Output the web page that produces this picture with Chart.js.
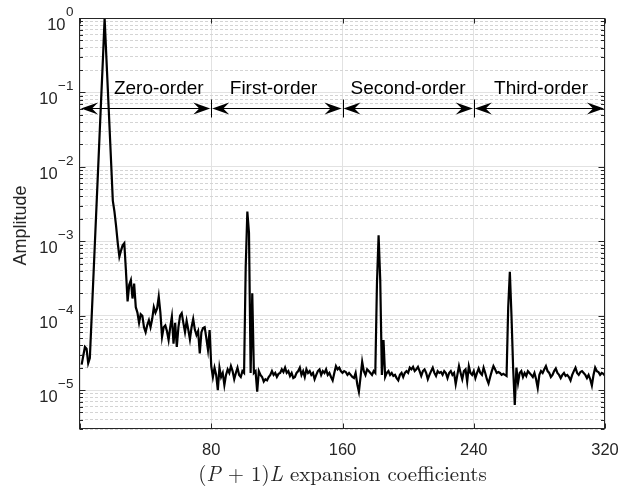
<!DOCTYPE html>
<html>
<head>
<meta charset="utf-8">
<script src="https://cdn.jsdelivr.net/npm/chart.js@4.4.1/dist/chart.umd.min.js"></script>
<style>
html, body { margin: 0; padding: 0; background: #fff; }
#wrap { width: 623px; height: 487px; }
</style>
</head>
<body>
<div id="wrap"><canvas id="chart" width="623" height="487"></canvas></div>
<script>
// Amplitude of each expansion coefficient, index 1..320
const amplitude = [
  2.2e-5, 2.9e-5, 3.8e-5, 3.6e-5, 2.3e-5, 2.7e-5, 8.5e-5, 2.7e-4, 8.7e-4, 2.8e-3,
  8.9e-3, 2.9e-2, 9.2e-2, 0.29, 1.0, 0.32, 0.105, 0.034, 0.011, 3.5e-3,
  2.5e-3, 1.6e-3, 9.5e-4, 6.2e-4, 7.5e-4, 8.8e-4, 9.4e-4, 4e-4, 1.55e-4, 2.6e-4,
  3.0e-4, 1.7e-4, 2.7e-4, 1.3e-4, 1.1e-4, 8e-5, 1.05e-4, 1.0e-4, 7e-5, 6e-5,
  7.5e-5, 8.7e-5, 7e-5, 9e-5, 1.3e-4, 1.1e-4, 1.25e-4, 1.8e-4, 1.1e-4, 5.2e-5,
  7e-5, 7.4e-5, 6.2e-5, 4.7e-5, 7e-5, 9.7e-5, 4.2e-5, 8e-5, 3.8e-5, 7e-5,
  1e-4, 1.08e-4, 8e-5, 6e-5, 8.5e-5, 6.5e-5, 4.8e-5, 7e-5, 9e-5, 6.5e-5,
  5.5e-5, 6.2e-5, 3.1e-5, 6e-5, 6.8e-5, 7e-5, 5e-5, 3.5e-5, 6.4e-5, 2.1e-5,
  1.5e-5, 2e-5, 1.6e-5, 1e-5, 2e-5, 1.5e-5, 1.7e-5, 1.17e-5, 1.6e-5, 1.9e-5,
  1.7e-5, 2.1e-5, 1.8e-5, 1.4e-5, 1.7e-5, 2e-5, 1.6e-5, 1.5e-5, 1.8e-5, 1.7e-5,
  4.5e-4, 2.5e-3, 1.3e-3, 1.7e-5, 2e-4, 1.7e-5, 1.8e-5, 9.5e-6, 1.8e-5, 1.6e-5,
  1.5e-5, 1.3e-5, 1.4e-5, 1.35e-5, 1.5e-5, 1.6e-5, 1.8e-5, 1.6e-5, 1.7e-5, 1.5e-5,
  1.65e-5, 1.7e-5, 1.9e-5, 1.75e-5, 2e-5, 1.7e-5, 1.8e-5, 1.55e-5, 1.7e-5, 1.45e-5,
  1.5e-5, 1.7e-5, 1.8e-5, 2e-5, 1.6e-5, 1.8e-5, 1.5e-5, 1.9e-5, 1.7e-5, 1.8e-5,
  1.6e-5, 1.7e-5, 1.4e-5, 1.6e-5, 1.8e-5, 1.9e-5, 1.6e-5, 1.8e-5, 1.7e-5, 1.9e-5,
  1.6e-5, 1.7e-5, 1.5e-5, 1.35e-5, 1.7e-5, 2.1e-5, 1.9e-5, 2e-5, 1.8e-5, 1.7e-5,
  1.8e-5, 1.75e-5, 1.6e-5, 1.7e-5, 1.6e-5, 1.5e-5, 1.45e-5, 1.7e-5, 1.2e-5, 9.5e-6,
  1.5e-5, 2.4e-5, 1.8e-5, 1.6e-5, 1.9e-5, 1.8e-5, 1.7e-5, 1.6e-5, 1.8e-5, 1.7e-5,
  2.7e-4, 1.2e-3, 3e-4, 1.6e-5, 4.7e-5, 1.5e-5, 1.7e-5, 1.8e-5, 1.6e-5, 1.7e-5,
  1.55e-5, 1.6e-5, 1.45e-5, 1.35e-5, 1.6e-5, 1.7e-5, 1.5e-5, 1.7e-5, 1.8e-5, 1.7e-5,
  2e-5, 1.9e-5, 2.05e-5, 1.8e-5, 1.9e-5, 2.05e-5, 1.8e-5, 1.55e-5, 1.8e-5, 1.9e-5,
  1.7e-5, 1.4e-5, 1.6e-5, 1.8e-5, 2e-5, 1.7e-5, 1.55e-5, 1.8e-5, 1.7e-5, 1.75e-5,
  1.6e-5, 1.8e-5, 1.7e-5, 1.45e-5, 1.7e-5, 1.8e-5, 1.6e-5, 1.7e-5, 1.2e-5, 1.6e-5,
  2.1e-5, 1.7e-5, 1.4e-5, 1.8e-5, 1.9e-5, 1.3e-5, 2.1e-5, 1.7e-5, 1.6e-5, 1.8e-5,
  1.45e-5, 1.7e-5, 1.95e-5, 1.7e-5, 1.6e-5, 2e-5, 1.7e-5, 1.4e-5, 1.23e-5, 1.5e-5,
  1.8e-5, 2.1e-5, 1.9e-5, 1.7e-5, 1.75e-5, 1.7e-5, 1.6e-5, 1.65e-5, 1.6e-5, 1.55e-5,
  1.3e-4, 3.9e-4, 1e-4, 2e-5, 6.3e-6, 2e-5, 1.25e-5, 1.7e-5, 1.8e-5, 1.5e-5,
  1.7e-5, 1.55e-5, 1.8e-5, 1.7e-5, 1.6e-5, 1.5e-5, 1.7e-5, 1.4e-5, 1.07e-5, 1.6e-5,
  1.8e-5, 1.7e-5, 1.9e-5, 2.1e-5, 1.8e-5, 1.7e-5, 1.5e-5, 1.6e-5, 1.8e-5, 1.95e-5,
  1.7e-5, 1.6e-5, 1.45e-5, 1.6e-5, 1.7e-5, 1.55e-5, 1.6e-5, 1.5e-5, 1.35e-5, 1.6e-5,
  1.8e-5, 2e-5, 1.7e-5, 1.6e-5, 1.75e-5, 1.8e-5, 1.7e-5, 1.6e-5, 1.45e-5, 1.6e-5,
  1.4e-5, 1.15e-5, 1.6e-5, 2e-5, 1.8e-5, 1.75e-5, 1.6e-5, 1.7e-5, 1.65e-5, 1.55e-5
];

// Axis ticks
const xTicks = [0, 80, 160, 240, 320];
const yDecades = [1e-5, 1e-4, 1e-3, 1e-2, 1e-1, 1];
const yExponents = ['\u22125', '\u22124', '\u22123', '\u22122', '\u22121', '0'];
const yMin = 3e-6, yMax = 1;

// Order regions marked with double arrows
const orderNames = ['Zero-order', 'First-order', 'Second-order', 'Third-order'];
const orderBounds = [0, 80, 160, 240, 320];
const orderLabelX = [48, 118, 200, 281];
const arrowLevel = 0.061;
const labelLevel = 0.096;

const points = amplitude.map((v, i) => ({ x: i + 1, y: v }));

// all log ticks (decades + 2..9 minors) inside the range
const yAllTicks = [];
[1e-6, 1e-5, 1e-4, 1e-3, 1e-2, 1e-1, 1].forEach(d => {
  for (let m = 1; m <= 9; m++) {
    const v = +(d * m).toPrecision(3);
    if (v >= yMin && v <= yMax) yAllTicks.push({ value: v, major: m === 1 });
  }
});

const SANS = '"Liberation Sans", Arial, Helvetica, sans-serif';
const SERIF = '"Latin Modern Roman", "CMU Serif", "Liberation Serif", "Times New Roman", serif';
const AXIS_COLOR = '#262626';

function drawArrowHead(ctx, x, y, dir) {
  // concave ("vback2") head; dir = +1 points right, -1 points left
  const L = 17, W = 6, N = 11;
  ctx.beginPath();
  ctx.moveTo(x, y);
  ctx.lineTo(x - dir * L, y - W);
  ctx.lineTo(x - dir * N, y);
  ctx.lineTo(x - dir * L, y + W);
  ctx.closePath();
  ctx.fill();
}

const matlabLook = {
  id: 'matlabLook',
  afterDraw(chart) {
    const ctx = chart.ctx;
    const { left, right, top, bottom } = chart.chartArea;
    const xs = chart.scales.x, ys = chart.scales.y;
    ctx.save();

    // axes box
    ctx.strokeStyle = AXIS_COLOR;
    ctx.lineWidth = 1;
    const L = Math.round(left) - 0.5, R = Math.round(right) - 0.5;
    const T = Math.round(top) + 0.5, B = Math.round(bottom) - 0.5;
    ctx.strokeRect(L, T, R - L, B - T);

    // inward tick marks
    ctx.beginPath();
    yAllTicks.forEach(t => {
      const py = Math.round(ys.getPixelForValue(t.value)) + 0.5;
      const len = t.major ? 6 : 3.5;
      ctx.moveTo(L, py); ctx.lineTo(L + len, py);
      ctx.moveTo(R, py); ctx.lineTo(R - len, py);
    });
    xTicks.forEach(v => {
      const px = Math.round(xs.getPixelForValue(v)) + 0.5;
      ctx.moveTo(px, B); ctx.lineTo(px, B - 5);
      ctx.moveTo(px, T); ctx.lineTo(px, T + 5);
    });
    ctx.stroke();

    // y tick labels 10^n
    ctx.fillStyle = AXIS_COLOR;
    ctx.textAlign = 'left';
    ctx.textBaseline = 'alphabetic';
    yDecades.forEach((v, i) => {
      const py = ys.getPixelForValue(v);
      ctx.font = '16.5px ' + SANS;
      const baseW = ctx.measureText('10').width;
      ctx.font = '13.5px ' + SANS;
      const expW = ctx.measureText(yExponents[i]).width;
      const x0 = 73 - baseW - expW;
      ctx.font = '16.5px ' + SANS;
      ctx.fillText('10', x0, py + 12);
      ctx.font = '13.5px ' + SANS;
      ctx.fillText(yExponents[i], x0 + baseW + 0.5, py - 2);
    });

    // y title
    ctx.save();
    ctx.translate(26, (top + bottom) / 2 + 2);
    ctx.rotate(-Math.PI / 2);
    ctx.textAlign = 'center';
    ctx.font = '18px ' + SANS;
    ctx.fillText('Amplitude', 0, 0);
    ctx.restore();

    // x title with italic P and L
    const parts = [
      ['(', false], ['P', true], [' + 1)', false], ['L', true], [' expansion coefficients', false]
    ];
    let total = 0;
    parts.forEach(p => {
      ctx.font = (p[1] ? 'italic ' : '') + '21px ' + SERIF;
      p.w = ctx.measureText(p[0]).width;
      total += p.w;
    });
    let tx = (left + right) / 2 - total / 2;
    ctx.textAlign = 'left';
    parts.forEach(p => {
      ctx.font = (p[1] ? 'italic ' : '') + '21px ' + SERIF;
      ctx.fillText(p[0], tx, 481);
      tx += p.w;
    });

    // order arrows
    ctx.strokeStyle = '#000';
    ctx.fillStyle = '#000';
    ctx.lineWidth = 1;
    const ay = Math.round(ys.getPixelForValue(arrowLevel)) + 0.5;
    for (let k = 0; k < orderNames.length; k++) {
      const x0 = xs.getPixelForValue(orderBounds[k]);
      const x1 = xs.getPixelForValue(orderBounds[k + 1]);
      ctx.beginPath();
      ctx.moveTo(x0 + 4, ay); ctx.lineTo(x1 - 4, ay);
      ctx.stroke();
      drawArrowHead(ctx, x0 + 1, ay, -1);
      drawArrowHead(ctx, x1 - 1, ay, 1);
    }
    ctx.beginPath();
    orderBounds.slice(1, -1).forEach(b => {
      const px = Math.round(xs.getPixelForValue(b)) + 0.5;
      ctx.moveTo(px, ay - 9); ctx.lineTo(px, ay + 9);
    });
    ctx.stroke();

    // order labels
    ctx.textAlign = 'center';
    ctx.font = '19px ' + SANS;
    const ly = ys.getPixelForValue(labelLevel);
    orderNames.forEach((name, k) => {
      ctx.fillText(name, xs.getPixelForValue(orderLabelX[k]), ly);
    });

    ctx.restore();
  }
};

const chart = new Chart(document.getElementById('chart'), {
  type: 'line',
  data: {
    datasets: [{
      data: points,
      borderColor: '#000',
      borderWidth: 2.2,
      pointRadius: 0,
      tension: 0,
      fill: false
    }]
  },
  options: {
    responsive: false,
    animation: false,
    events: [],
    layout: { padding: { top: 18, right: 18, left: 0, bottom: 0 } },
    plugins: { legend: { display: false }, tooltip: { enabled: false } },
    scales: {
      x: {
        type: 'linear',
        min: 0,
        max: 320,
        afterBuildTicks: s => { s.ticks = xTicks.map(v => ({ value: v })); },
        afterFit: s => { s.height = 58; s.paddingLeft = 0; s.paddingRight = 0; },
        grid: { color: '#e2e2e2', drawTicks: false },
        border: { display: false },
        ticks: {
          padding: 12,
          color: AXIS_COLOR,
          font: { family: SANS, size: 16.5 },
          maxRotation: 0,
          autoSkip: false,
          callback: v => (v === 0 ? '' : String(v))
        }
      },
      y: {
        type: 'logarithmic',
        min: yMin,
        max: yMax,
        afterBuildTicks: s => { s.ticks = yAllTicks.map(t => ({ value: t.value, major: t.major })); },
        afterFit: s => { s.width = 80; s.paddingTop = 0; s.paddingBottom = 0; },
        grid: {
          drawTicks: false,
          color: ctx => (ctx.tick && ctx.tick.major ? '#e2e2e2' : '#d4d4d4')
        },
        border: {
          display: false,
          dash: ctx => (ctx.type === 'tick' && ctx.tick && !ctx.tick.major ? [3, 2] : [])
        },
        ticks: { display: false }
      }
    }
  },
  plugins: [matlabLook]
});
</script>
</body>
</html>
